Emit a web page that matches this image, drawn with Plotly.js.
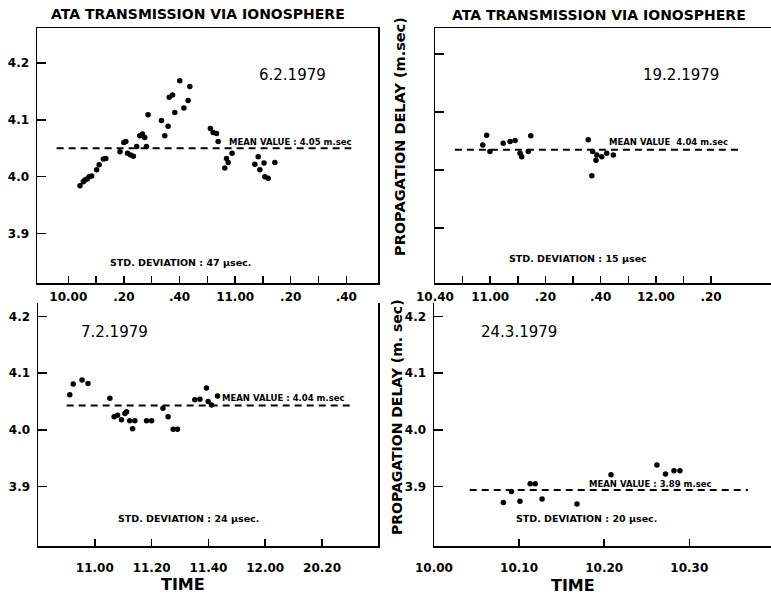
<!DOCTYPE html>
<html>
<head>
<meta charset="utf-8">
<script src="https://cdn.plot.ly/plotly-3.0.1.min.js"></script>
<style>html,body{margin:0;padding:0;background:#fff;}#chart{width:771px;height:596px;}</style>
</head>
<body>
<div id="chart"></div>
<script>
// ---- Data (x = minutes after 10:00, y = propagation delay in m.sec) ----
// Panel 1: 6.2.1979
const p1_x = [4.2,5.4,6.0,6.8,7.5,8.4,10.2,11.1,12.6,13.5,18.6,20.0,20.7,21.3,22.4,23.4,24.6,25.7,26.7,27.5,28.1,28.7,33.5,34.7,35.9,36.3,37.5,38.3,40.1,41.6,43.1,43.7,51.1,52.1,53.3,53.9,56.9,56.3,57.5,58.9,67.1,68.3,70.4,68.9,70.7,71.9,74.3];
const p1_y = [3.984,3.991,3.994,3.996,4.000,4.001,4.012,4.021,4.031,4.032,4.044,4.060,4.062,4.041,4.038,4.036,4.053,4.072,4.075,4.069,4.053,4.109,4.099,4.072,4.089,4.140,4.144,4.113,4.169,4.121,4.134,4.159,4.085,4.078,4.076,4.062,4.032,4.015,4.025,4.041,4.022,4.035,4.024,4.012,4.000,3.997,4.025];
const p1_mean = 4.05;
const p1_meanSpan = [-4.2, 101.8];
// Panel 2: 19.2.1979
const p2_x = [58.7,57.3,59.9,64.7,67.2,69.0,70.8,71.4,73.8,74.7,95.5,97.1,98.6,98.3,100.4,102.2,104.6,96.8];
const p2_y = [4.060,4.043,4.032,4.046,4.049,4.051,4.029,4.023,4.032,4.059,4.052,4.032,4.026,4.017,4.023,4.029,4.026,3.990];
const p2_mean = 4.035;
const p2_meanSpan = [47.2, 151.5];
// Panel 3: 7.2.1979
const p3_x = [51.2,52.4,55.5,57.6,65.3,66.8,68.0,69.4,70.6,71.2,72.3,74.1,73.3,78.2,80.0,84.0,85.8,87.6,89.1,95.2,97.0,99.3,99.9,101.1,103.2];
const p3_y = [4.062,4.081,4.088,4.082,4.056,4.023,4.026,4.018,4.029,4.032,4.016,4.016,4.002,4.016,4.016,4.038,4.023,4.001,4.001,4.053,4.054,4.074,4.050,4.044,4.060];
const p3_mean = 4.043;
const p3_meanSpan = [50.1, 150.7];
// Panel 4: 24.3.1979
const p4_x = [8.15,10.1,11.3,11.9,12.7,16.8,20.8,26.2,27.2,28.2,28.9,9.1];
const p4_y = [3.872,3.874,3.905,3.905,3.878,3.869,3.921,3.938,3.922,3.928,3.928,3.891];
const p4_mean = 3.894;
const p4_meanSpan = [4.2, 36.9];

// Tick labels
const yTickVals = [3.9, 4.0, 4.1, 4.2];
const yTickText = ["3.9", "4.0", "4.1", "4.2"];
const p1_tickVals = [0,10,20,30,40,50,60,70,80,90,100];
const p1_tickText = ["10.00","",".20","",".40","","11.00","",".20","",".40"];
const p2_tickVals = [40,50,60,70,80,90,100,110,120,130,140];
const p2_tickText = ["10.40","","11.00","",".20","",".40","","12.00","",".20"];
const p3_tickVals = [60,80,100,120,140];
const p3_tickText = ["11.00","11.20","11.40","12.00","20.20"];
const p4_tickVals = [0,10,20,30];
const p4_tickText = ["10.00","10.10","10.20","10.30"];

// Texts
const panelTitle = "ATA TRANSMISSION VIA IONOSPHERE";
const dates = ["6.2.1979", "19.2.1979", "7.2.1979", "24.3.1979"];
const meanLabels = ["MEAN VALUE : 4.05 m.sec", "MEAN VALUE  4.04 m.sec", "MEAN VALUE : 4.04 m.sec", "MEAN VALUE : 3.89 m.sec"];
const stdLabels = ["STD. DEVIATION : 47 μsec.", "STD. DEVIATION : 15 μsec", "STD. DEVIATION : 24 μsec.", "STD. DEVIATION : 20 μsec."];

// ---- Layout helpers ----
const W = 771, H = 596;
const px = v => v / W;
const py = v => 1 - v / H;
const FONT = "DejaVu Sans, Liberation Sans, sans-serif";

function pts(x, y, xa, ya) {
  return {x: x, y: y, xaxis: xa, yaxis: ya, type: 'scatter', mode: 'markers',
          marker: {color: '#000', size: 5.5}, hoverinfo: 'skip', showlegend: false};
}
function meanLine(span, m, xa, ya) {
  return {x: span, y: [m, m], xaxis: xa, yaxis: ya, type: 'scatter', mode: 'lines',
          line: {color: '#000', width: 2, dash: '7px,5px'}, hoverinfo: 'skip', showlegend: false};
}

const data = [
  meanLine(p1_meanSpan, p1_mean, 'x', 'y'), pts(p1_x, p1_y, 'x', 'y'),
  meanLine(p2_meanSpan, p2_mean, 'x2', 'y2'), pts(p2_x, p2_y, 'x2', 'y2'),
  meanLine(p3_meanSpan, p3_mean, 'x3', 'y3'), pts(p3_x, p3_y, 'x3', 'y3'),
  meanLine(p4_meanSpan, p4_mean, 'x4', 'y4'), pts(p4_x, p4_y, 'x4', 'y4')
];

const tickFont = {family: FONT, size: 12, color: '#000', weight: 'bold'};
function xAx(domain, range, vals, text, anchor, mirror, standoff) {
  return {domain: domain, range: range, anchor: anchor, tickmode: 'array', tickvals: vals, ticktext: text,
          ticks: 'inside', ticklen: 7, tickwidth: 1.5, tickcolor: '#000', showline: true, linecolor: '#000',
          linewidth: 1.5, mirror: mirror, showgrid: false, zeroline: false, tickfont: tickFont,
          ticklabelstandoff: standoff, automargin: false, fixedrange: true};
}
function yAx(domain, range, showLabels, anchor, mirror) {
  return {domain: domain, range: range, anchor: anchor, tickmode: 'array', tickvals: yTickVals, ticktext: yTickText,
          showticklabels: showLabels, ticks: 'inside', ticklen: 9, tickwidth: 1.5, tickcolor: '#000',
          showline: true, linecolor: '#000', linewidth: 1.5, mirror: mirror, showgrid: false, zeroline: false,
          tickfont: tickFont, ticklabelstandoff: 4, automargin: false, fixedrange: true};
}

const topDom = [py(283), py(28)];
const botDom = [py(546), py(303)];

const layout = {
  width: W, height: H, margin: {l: 0, r: 0, t: 0, b: 0}, paper_bgcolor: '#fff', plot_bgcolor: '#fff',
  showlegend: false,
  xaxis:  xAx([px(37), px(378)], [-11.26, 111.4], p1_tickVals, p1_tickText, 'y', true, 2),
  yaxis:  yAx(topDom, [3.8125, 4.262], true, 'x', true),
  xaxis2: xAx([px(435), 1], [40, 161.7], p2_tickVals, p2_tickText, 'y2', true, 2),
  yaxis2: yAx(topDom, [3.805, 4.245], false, 'x2', false),
  xaxis3: xAx([px(38), px(378)], [40, 159.7], p3_tickVals, p3_tickText, 'y3', false, 10),
  yaxis3: yAx(botDom, [3.795, 4.224], true, 'x3', true),
  xaxis4: xAx([px(434), 1], [0, 39.6], p4_tickVals, p4_tickText, 'y4', false, 10),
  yaxis4: yAx(botDom, [3.795, 4.224], true, 'x4', false),
  annotations: []
};

function ann(text, x, y, size, opts) {
  return Object.assign({text: text, xref: 'paper', yref: 'paper', x: px(x), y: py(y), showarrow: false,
    xanchor: 'center', yanchor: 'middle', font: {family: FONT, size: size, color: '#000'}}, opts || {});
}
const A = layout.annotations;
// Panel titles
A.push(ann('<b>' + panelTitle + '</b>', 198, 14, 14));
A.push(ann('<b>' + panelTitle + '</b>', 599, 15, 14));
// Dates
A.push(ann(dates[0], 292, 75, 15));
A.push(ann(dates[1], 681, 75, 15));
A.push(ann(dates[2], 114, 332, 15));
A.push(ann(dates[3], 519, 332, 15));
// Mean labels
A.push(ann('<b>' + meanLabels[0] + '</b>', 227, 142, 8.5, {xanchor: 'left'}));
A.push(ann('<b>' + meanLabels[1] + '</b>', 607, 142, 8.5, {xanchor: 'left'}));
A.push(ann('<b>' + meanLabels[2] + '</b>', 220, 398, 8.5, {xanchor: 'left'}));
A.push(ann('<b>' + meanLabels[3] + '</b>', 587, 484, 8.5, {xanchor: 'left'}));
// STD labels
A.push(ann('<b>' + stdLabels[0] + '</b>', 180, 262, 9.5));
A.push(ann('<b>' + stdLabels[1] + '</b>', 578, 258, 9.5));
A.push(ann('<b>' + stdLabels[2] + '</b>', 188, 518, 9.5));
A.push(ann('<b>' + stdLabels[3] + '</b>', 586, 518, 9.5));
// Axis titles
A.push(ann('<b>TIME</b>', 183, 584, 16));
A.push(ann('<b>TIME</b>', 573, 585, 16));
A.push(ann('<b>PROPAGATION DELAY (m.sec)</b>', 400, 137, 14.5, {textangle: -90}));
A.push(ann('<b>PROPAGATION DELAY (m. sec)</b>', 397, 417, 14, {textangle: -90}));

Plotly.newPlot('chart', data, layout, {staticPlot: true, displayModeBar: false});
</script>
</body>
</html>
